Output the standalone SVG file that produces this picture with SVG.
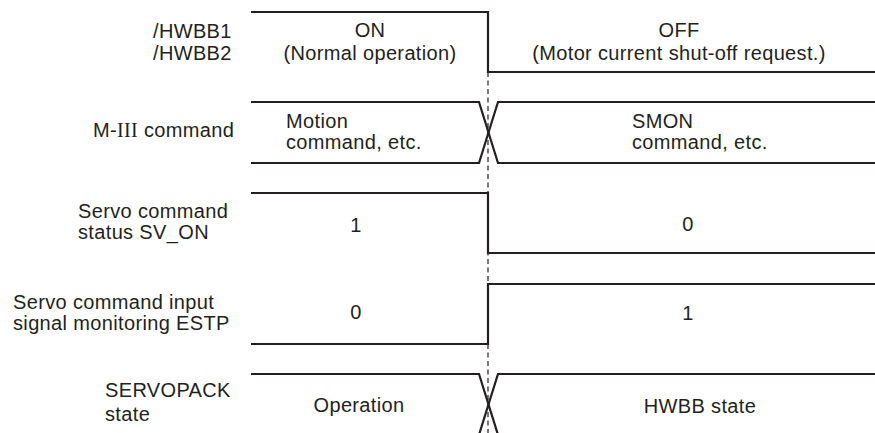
<svg xmlns="http://www.w3.org/2000/svg" width="875" height="433" viewBox="0 0 875 433">
<style>
text{font-family:"Liberation Sans",Arial,sans-serif;font-size:20px;letter-spacing:0.35px;fill:#231f20}
.c{text-anchor:middle}
.sig{fill:none;stroke:#231f20;stroke-width:2.2;stroke-linejoin:miter}
.dash{fill:none;stroke:#231f20;stroke-width:1.2;stroke-dasharray:5 3.5}
.serif{font-family:"Liberation Serif","Times New Roman",serif}
</style>
<rect width="875" height="433" fill="#fff"/>
<g id="labels">
<g id="label-hwbb"><text x="153" y="37.5">/HWBB1</text><text x="153" y="60">/HWBB2</text></g>
<g id="label-m3"><text x="93" y="137">M-<tspan class="serif">III</tspan> command</text></g>
<g id="label-svon"><text x="78" y="217.5">Servo command</text><text x="78" y="238.5">status SV_ON</text></g>
<g id="label-estp"><text x="13" y="308.5">Servo command input</text><text x="13" y="329.5">signal monitoring ESTP</text></g>
<g id="label-state"><text x="105" y="397">SERVOPACK</text><text x="105" y="421">state</text></g>
</g>
<g id="connectors">
<line class="dash" x1="488" y1="72" x2="488" y2="433"/>
<polyline class="sig" points="251,12 488,12 488,72 875,72"/>
<polyline class="sig" points="251,102 479,102 498,163 875,163"/>
<polyline class="sig" points="251,163 479,163 498,102 875,102"/>
<polyline class="sig" points="251,193 488,193 488,253 875,253"/>
<polyline class="sig" points="251,344 488,344 488,284 875,284"/>
<polyline class="sig" points="251,374 479,374 499,438"/>
<polyline class="sig" points="875,374 498,374 478,438"/>
</g>
<g id="values">
<g id="v-on"><text class="c" x="370" y="37">ON</text><text class="c" x="370" y="60">(Normal operation)</text></g>
<g id="v-off"><text class="c" x="679" y="37">OFF</text><text class="c" x="679" y="60">(Motor current shut-off request.)</text></g>
<g id="v-motion"><text x="286" y="127.5">Motion</text><text x="286" y="148.5">command, etc.</text></g>
<g id="v-smon"><text x="632" y="127.5">SMON</text><text x="632" y="148.5">command, etc.</text></g>
<g id="v-sv1"><text class="c" x="356" y="232">1</text></g>
<g id="v-sv0"><text class="c" x="688" y="231">0</text></g>
<g id="v-es0"><text class="c" x="356" y="319">0</text></g>
<g id="v-es1"><text class="c" x="688" y="320">1</text></g>
<g id="v-op"><text class="c" x="359" y="412">Operation</text></g>
<g id="v-hwbb"><text class="c" x="700" y="413">HWBB state</text></g>
</g>
</svg>
